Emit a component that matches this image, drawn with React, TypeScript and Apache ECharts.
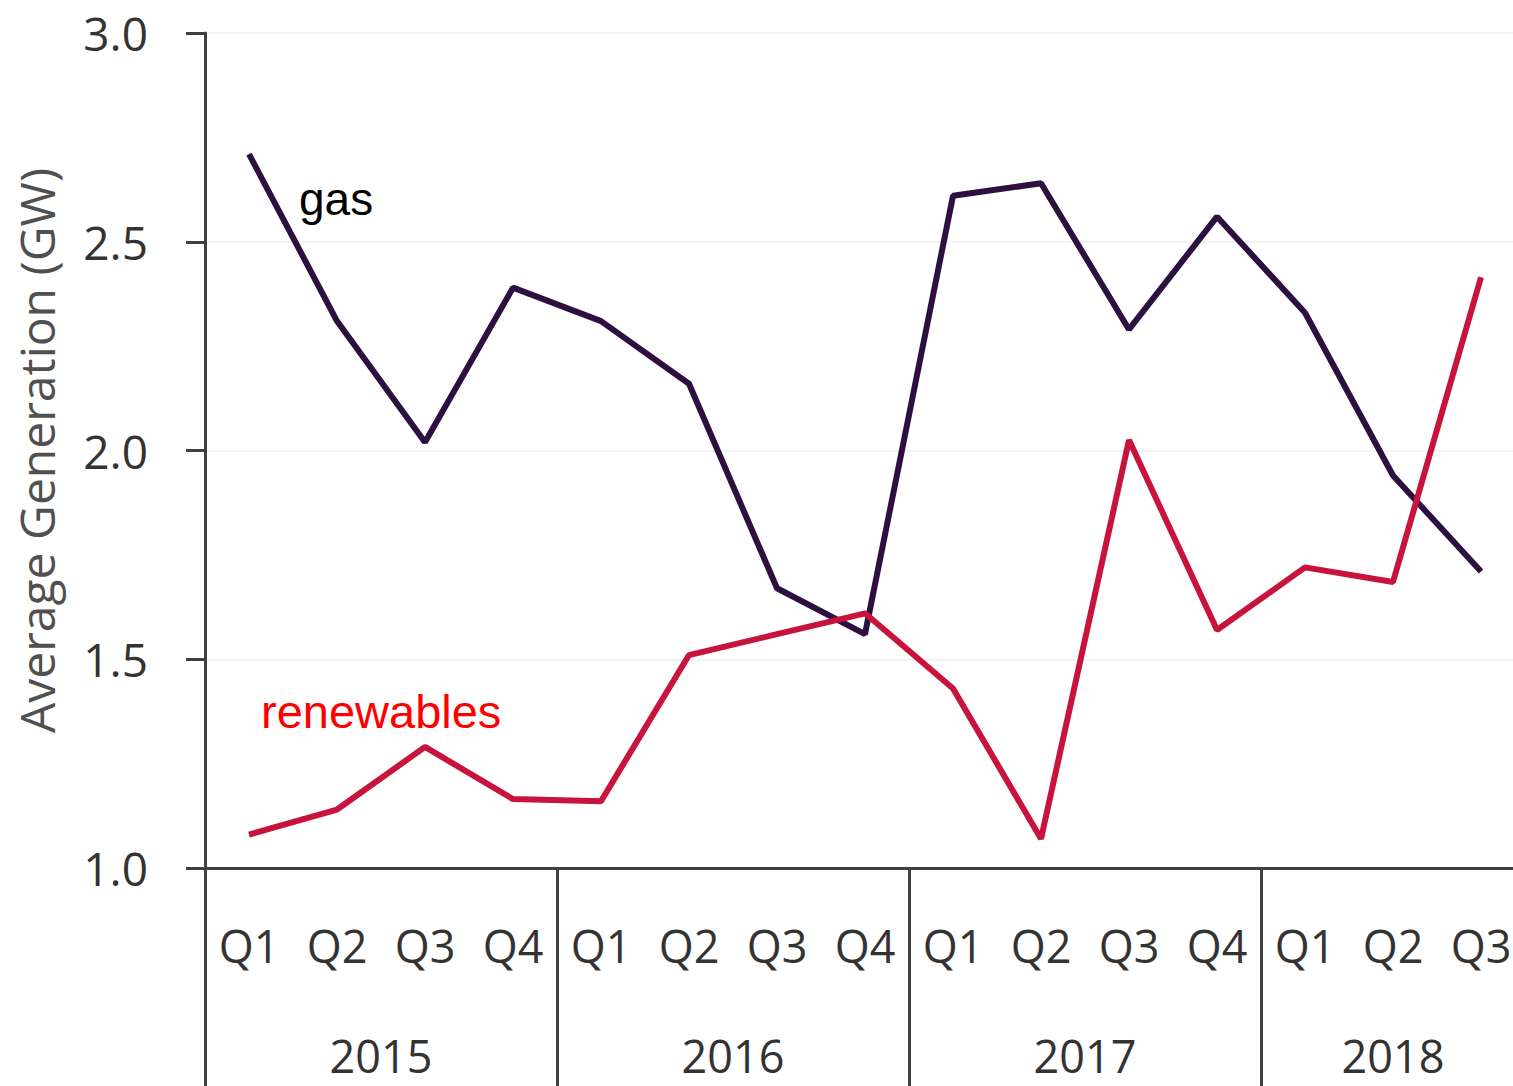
import React, { useEffect, useRef } from "react";
import * as echarts from "echarts";

const quarters = ["Q1", "Q2", "Q3", "Q4", "Q1", "Q2", "Q3", "Q4", "Q1", "Q2", "Q3", "Q4", "Q1", "Q2", "Q3"];
const years = ["2015", "2016", "2017", "2018"];
const quartersPerYear = [4, 4, 4, 3];
const gas = [2.71, 2.31, 2.02, 2.39, 2.31, 2.16, 1.67, 1.56, 2.61, 2.64, 2.29, 2.56, 2.33, 1.94, 1.71];
const renewables = [1.08, 1.14, 1.29, 1.165, 1.16, 1.51, 1.56, 1.61, 1.43, 1.07, 2.025, 1.57, 1.72, 1.685, 2.415];
const yTicks = [1.0, 1.5, 2.0, 2.5, 3.0];

const AXIS = "#404040";
const FONT = "'Open Sans', 'Noto Sans', sans-serif";

export default function App() {
  const ref = useRef<HTMLDivElement>(null);
  useEffect(() => {
    if (!ref.current) return;
    const chart = echarts.init(ref.current, null, { renderer: "svg" });

    const starts: number[] = [];
    let s = 0;
    quartersPerYear.forEach((n) => {
      starts.push(s);
      s += n;
    });
    const yearCenters = starts.map((st, i) => st + (quartersPerYear[i] - 1) / 2);
    const yearBounds = starts.map((st) => st - 0.5);

    chart.setOption({
      animation: false,
      backgroundColor: "#ffffff",
      grid: {
        left: 205,
        top: 33,
        height: 835,
        width: 1320,
        containLabel: false,
        outerBoundsMode: "none",
      },
      xAxis: [
        {
          type: "category",
          position: "bottom",
          data: quarters,
          boundaryGap: true,
          axisLine: { show: true, onZero: false, lineStyle: { color: AXIS, width: 3 } },
          axisTick: { show: false },
          axisLabel: { interval: 0, color: "#333333", fontSize: 45, fontFamily: FONT, margin: 55 },
          splitLine: { show: false },
        },
        {
          type: "value",
          position: "bottom",
          offset: 0,
          min: -0.5,
          max: 14.5,
          axisLine: { show: false, onZero: false },
          axisTick: {
            show: true,
            customValues: yearBounds,
            length: 220,
            lineStyle: { color: AXIS, width: 3 },
          },
          axisLabel: {
            customValues: yearCenters,
            color: "#333333",
            fontSize: 45,
            fontFamily: FONT,
            margin: 165,
            formatter: (v: number) => {
              const idx = yearCenters.findIndex((c) => Math.abs(c - v) < 1e-6);
              return idx >= 0 ? years[idx] : "";
            },
          },
          splitLine: { show: false },
        },
      ],
      yAxis: {
        type: "value",
        min: yTicks[0],
        max: yTicks[yTicks.length - 1],
        interval: 0.5,
        name: "Average Generation (GW)",
        nameLocation: "middle",
        nameGap: 145,
        nameTextStyle: { color: "#505050", fontSize: 48, fontFamily: FONT },
        axisLine: { show: true, onZero: false, lineStyle: { color: AXIS, width: 3 } },
        axisTick: { show: true, length: 19, lineStyle: { color: AXIS, width: 3 } },
        axisLabel: {
          color: "#333333",
          fontSize: 46,
          fontFamily: FONT,
          margin: 57,
          formatter: (v: number) => v.toFixed(1),
        },
        splitLine: { show: true, lineStyle: { color: "#f3f3f3", width: 2 } },
      },
      series: [
        {
          name: "gas",
          type: "line",
          xAxisIndex: 0,
          data: gas,
          symbol: "none",
          lineStyle: { color: "#2d1040", width: 6 },
          z: 2,
        },
        {
          name: "renewables",
          type: "line",
          xAxisIndex: 0,
          data: renewables,
          symbol: "none",
          lineStyle: { color: "#c8143c", width: 6 },
          z: 3,
        },
      ],
      graphic: [
        {
          type: "text",
          left: 299,
          top: 176,
          style: { text: "gas", fill: "#000000", fontSize: 46, fontFamily: "'Liberation Sans', Arial, sans-serif" },
        },
        {
          type: "text",
          left: 261,
          top: 688,
          style: { text: "renewables", fill: "#ff0000", fontSize: 47, fontFamily: "'Liberation Sans', Arial, sans-serif" },
        },
      ],
    });
    return () => chart.dispose();
  }, []);
  return <div ref={ref} style={{ position: "fixed", left: 0, top: 0, width: 1513, height: 1086 }} />;
}
